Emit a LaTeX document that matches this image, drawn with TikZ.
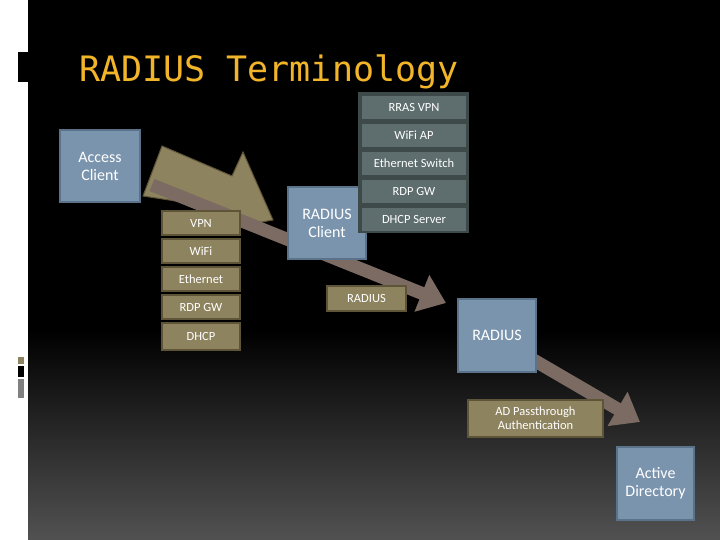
\documentclass[tikz,border=0pt]{standalone}
\usepackage{fontspec}
\setmainfont{Carlito}
\newfontfamily\titlefont{DejaVu Sans Mono}
\usetikzlibrary{arrows.meta}
\definecolor{bluebox}{HTML}{7A94AE}
\definecolor{blueedge}{HTML}{5A728A}
\definecolor{graybox}{HTML}{5E6D6D}
\definecolor{grayedge}{HTML}{3E4A4A}
\definecolor{olivebox}{HTML}{8E835F}
\definecolor{oliveedge}{HTML}{5E5538}
\definecolor{brownarrow}{HTML}{7B6B63}
\definecolor{titleorange}{HTML}{F2B52A}
\tikzset{
 x=1pt,y=-1pt,
 box/.style={draw=blueedge,line width=2pt,fill=bluebox,text=white,align=center,anchor=north west,inner sep=0pt,font=\fontsize{16}{18}\selectfont},
 gbox/.style={draw=grayedge,line width=2pt,fill=graybox,text=white,anchor=north west,inner sep=0pt,minimum width=106pt,minimum height=25pt,font=\fontsize{12.5}{13}\selectfont},
 obox/.style={draw=oliveedge,line width=2pt,fill=olivebox,text=white,anchor=north west,inner sep=0pt,align=center,font=\fontsize{12.5}{14}\selectfont},
 barrow/.style={draw=brownarrow,line width=13pt,-{Triangle[length=26pt,width=38pt]}},
}
\begin{document}
\begin{tikzpicture}
\useasboundingbox (0,0) rectangle (720,540);
\fill[white] (0,0) rectangle (28,540);
\fill[black] (28,0) rectangle (720,330);
\shade[top color=black,bottom color=black!68!white] (28,330) rectangle (720,540);
\fill[black] (18,52) rectangle (28,82);
\fill[olivebox] (18,357) rectangle (24,364);
\fill[black] (18,366) rectangle (24,377);
\fill[gray] (18,379) rectangle (24,398);
\node[anchor=base west,text=titleorange,inner sep=0pt,font=\titlefont\fontsize{35}{37}\selectfont] (title) at (79,82) {RADIUS Terminology};
% big olive arrow
\fill[olivebox,draw=oliveedge,line width=1pt] (143,196) -- (162,146) -- (232,176) -- (243,152) -- (273,220) -- (203,232) -- (222,208) -- cycle;
\coordinate (a1) at (152,185);
\coordinate (a2) at (446,303);
\coordinate (b1) at (525,355);
\coordinate (b2) at (640,422);
\draw[barrow] (a1) -- (a2);
\draw[barrow] (b1) -- (b2);
\node[box,minimum width=80pt,minimum height=72pt] (ac) at (59,129) {Access\\Client};
\node[box,minimum width=78pt,minimum height=72pt] (rc) at (287,186) {RADIUS\\Client};
\node[box,minimum width=78pt,minimum height=73pt] (rad) at (457,298) {RADIUS};
\node[box,minimum width=77pt,minimum height=73pt] (ad) at (616,446) {Active\\Directory};
\fill[grayedge] (358,92) rectangle (469,233);
\node[gbox] (g1) at (360,94) {RRAS VPN};
\node[gbox] (g2) at (360,122) {WiFi AP};
\node[gbox] (g3) at (360,150) {Ethernet Switch};
\node[gbox] (g4) at (360,178) {RDP GW};
\node[gbox] (g5) at (360,206) {DHCP Server};
\node[obox,minimum width=78pt,minimum height=24pt] (o1) at (161,210) {VPN};
\node[obox,minimum width=78pt,minimum height=24pt] (o2) at (161,238) {WiFi};
\node[obox,minimum width=78pt,minimum height=24pt] (o3) at (161,266) {Ethernet};
\node[obox,minimum width=78pt,minimum height=24pt] (o4) at (161,294) {RDP GW};
\node[obox,minimum width=78pt,minimum height=27pt] (o5) at (161,322) {DHCP};
\node[obox,minimum width=79pt,minimum height=25pt] (r) at (326,285) {RADIUS};
\node[obox,minimum width=135pt,minimum height=37pt] (adp) at (467,399) {AD Passthrough\\Authentication};
\end{tikzpicture}
\end{document}
